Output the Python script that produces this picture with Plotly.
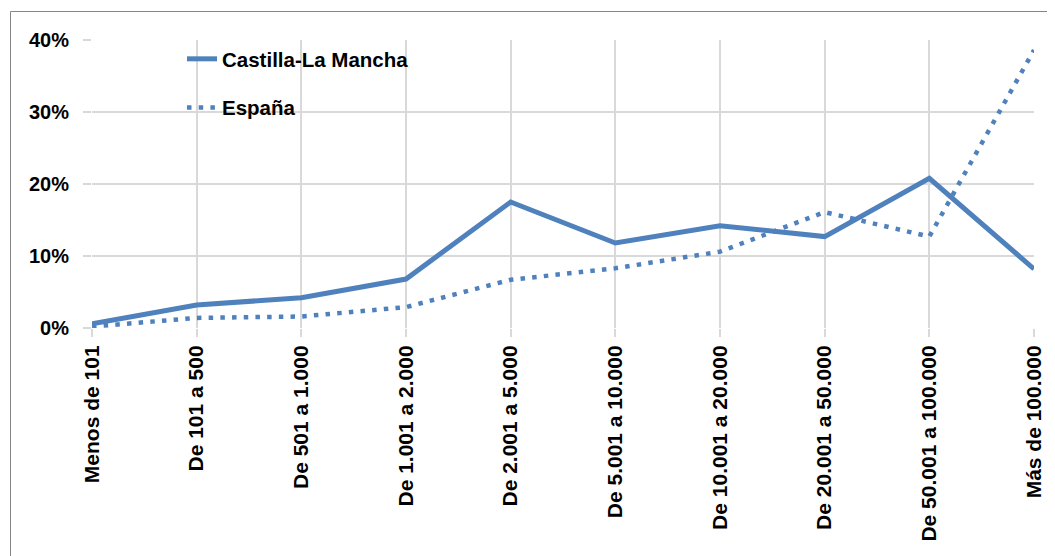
import plotly.graph_objects as go

categories = ["Menos de 101", "De 101 a 500", "De 501 a 1.000", "De 1.001 a 2.000",
              "De 2.001 a 5.000", "De 5.001 a 10.000", "De 10.001 a 20.000",
              "De 20.001 a 50.000", "De 50.001 a 100.000", "Más de 100.000"]
castilla = [0.006, 0.032, 0.042, 0.068, 0.175, 0.118, 0.142, 0.127, 0.208, 0.082]
espana = [0.002, 0.014, 0.016, 0.029, 0.067, 0.083, 0.106, 0.161, 0.127, 0.386]
y_ticks = [0, 0.1, 0.2, 0.3, 0.4]
y_ticktext = ["0%", "10%", "20%", "30%", "40%"]

BLUE = "#4F81BD"
GRID = "#D9D9D9"
FONT = "Liberation Sans"

fig = go.Figure()
fig.add_trace(go.Scatter(x=categories, y=castilla, mode="lines", name="Castilla-La Mancha",
                         line=dict(color=BLUE, width=5), cliponaxis=False,
                         legendgroup="a"))
fig.add_trace(go.Scatter(x=categories, y=espana, mode="lines", name="España",
                         line=dict(color=BLUE, width=4.5, dash="4.5px,7.2px"), cliponaxis=False,
                         legendgroup="b"))

# page body has an 8px margin, so figure coords = screen coords - 8
L, R, T, B = 84, 29, 32, 236
W, H = 1055, 556
pw = W - L - R
ph = H - T - B

def px_x(p):
    return (p - L) / pw

def px_y(p):
    return (H - B - p) / ph

fig.update_layout(
    width=W, height=H,
    margin=dict(l=L, r=R, t=T, b=B),
    paper_bgcolor="white", plot_bgcolor="white",
    hovermode=False,
    font=dict(family=FONT, size=20, color="black"),
    legend=dict(x=px_x(174), y=px_y(31), xanchor="left", yanchor="top",
                font=dict(family=FONT, size=20.5, color="black", weight="bold"),
                bgcolor="rgba(0,0,0,0)", traceorder="grouped", tracegroupgap=19),
    xaxis=dict(type="category", range=[0, 9], showgrid=True, gridcolor=GRID, gridwidth=1.5,
               zeroline=False, showline=False, ticks="outside", ticklen=8, tickcolor=GRID,
               tickwidth=1.5, tickangle=-90,
               tickfont=dict(family=FONT, size=21, color="black", weight="bold")),
    yaxis=dict(range=[0, 0.4], tickvals=y_ticks, ticktext=y_ticktext, showgrid=True,
               gridcolor=GRID, gridwidth=1.5, zeroline=False, showline=False,
               ticks="outside", ticklen=8, tickcolor=GRID, tickwidth=1.5,
               ticklabelstandoff=10,
               tickfont=dict(family=FONT, size=20, color="black", weight="bold")),
    shapes=[dict(type="rect", xref="paper", yref="paper",
                 x0=px_x(2.5), x1=px_x(1070), y0=px_y(570), y1=px_y(3.5),
                 line=dict(color="#868686", width=1), layer="below")],
)

fig.write_html("out.html")
